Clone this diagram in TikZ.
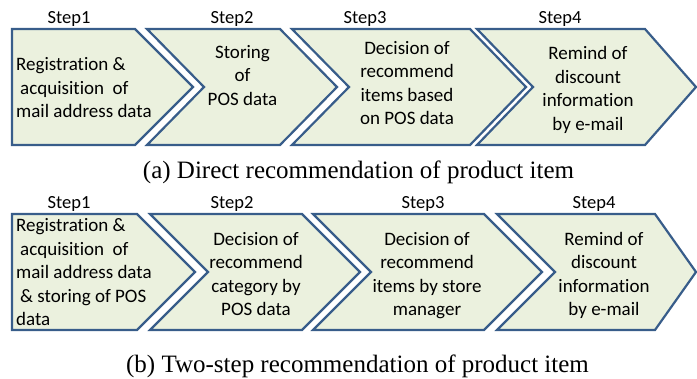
\documentclass[tikz,border=0pt]{standalone}
\usepackage{fontspec}
\setmainfont{Liberation Serif}
\newfontfamily\boxfont[Ligatures=NoCommon]{Carlito}
\definecolor{chevfill}{RGB}{235,241,222}
\definecolor{chevline}{RGB}{56,93,138}
\begin{document}
\begin{tikzpicture}[x=1pt,y=-1pt,
  chev/.style={fill=chevfill,draw=chevline,line width=2.2pt,line join=miter},
  body/.style={font=\boxfont\fontsize{19}{23.5}\selectfont,align=center,inner sep=0pt,anchor=base},
  lbody/.style={font=\boxfont\fontsize{19}{23.5}\selectfont,align=left,inner sep=0pt,anchor=base west},
  steplbl/.style={font=\boxfont\fontsize{18.5}{22}\selectfont,inner sep=0pt,anchor=base},
  caption/.style={font=\fontsize{25}{30}\selectfont,inner sep=0pt,anchor=base}]
\useasboundingbox (0,0) rectangle (697,378);

% ---- row (a): direct recommendation ----
\draw[chev] (12,29) -- (135,29) -- (193,87) -- (135,145) -- (12,145) -- cycle;
\draw[chev] (147,29) -- (280,29) -- (337,87) -- (280,145) -- (147,145) -- (204,87) -- cycle;
\draw[chev] (292,29) -- (470,29) -- (526,87) -- (470,145) -- (292,145) -- (349,87) -- cycle;
\draw[chev] (477,29) -- (645,29) -- (696,87) -- (645,145) -- (477,145) -- (533,87) -- cycle;

\node[steplbl] (a-s1) at (69,23) {Step1};
\node[steplbl] (a-s2) at (232,23) {Step2};
\node[steplbl] (a-s3) at (365,23) {Step3};
\node[steplbl] (a-s4) at (560,23) {Step4};

% multi-line nodes are anchored at the baseline of their last line
\node[lbody] (a-t1) at (16,117.5) {Registration \&\\\hspace*{4pt}acquisition\ \ of\\mail address data};
\node[body] (a-t2) at (242.5,105.3) {Storing\\of\\POS data};
\node[body] (a-t3) at (407,124.5) {Decision of\\recommend\\items based\\on POS data};
\node[body] (a-t4) at (588,130) {Remind of\\discount\\information\\by e-mail};

\node[caption] (cap-a) at (358.5,178) {(a) Direct recommendation of product item};

% ---- row (b): two-step recommendation ----
\draw[chev] (12,214) -- (137,214) -- (195,272) -- (137,330) -- (12,330) -- cycle;
\draw[chev] (150,214) -- (302,214) -- (360,272) -- (302,330) -- (150,330) -- (208,272) -- cycle;
\draw[chev] (313,214) -- (484,214) -- (542,272) -- (484,330) -- (313,330) -- (371,272) -- cycle;
\draw[chev] (497,214) -- (655,214) -- (696,272) -- (655,330) -- (497,330) -- (555,272) -- cycle;

\node[steplbl] (b-s1) at (69,208) {Step1};
\node[steplbl] (b-s2) at (232,208) {Step2};
\node[steplbl] (b-s3) at (423,208) {Step3};
\node[steplbl] (b-s4) at (594,208) {Step4};

\node[lbody] (b-t1) at (16,325.5) {Registration \&\\\hspace*{4pt}acquisition\ \ of\\mail address data\\\hspace*{4pt}\& storing of POS\\data};
\node[body] (b-t2) at (256,315.5) {Decision of\\recommend\\category by\\POS data};
\node[body] (b-t3) at (427,315.5) {Decision of\\recommend\\items by store\\manager};
\node[body] (b-t4) at (604,315.5) {Remind of\\discount\\information\\by e-mail};

\node[caption] (cap-b) at (357.5,372) {(b) Two-step recommendation of product item};
\end{tikzpicture}
\end{document}
